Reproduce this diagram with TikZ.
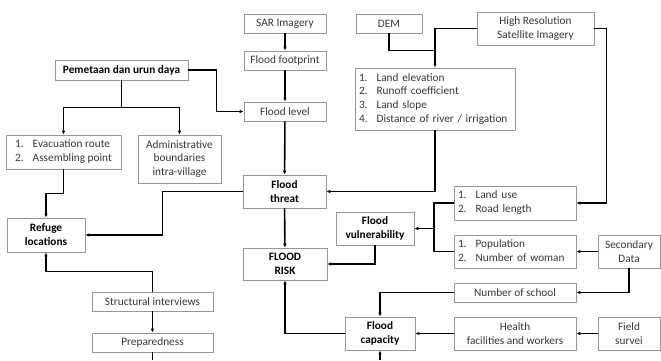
\documentclass[tikz,border=0pt]{standalone}
\usepackage{fontspec}
\setmainfont{Carlito}
\usetikzlibrary{arrows.meta,calc}
\definecolor{boxgray}{RGB}{150,150,150}
\definecolor{txt}{RGB}{55,55,55}
\tikzset{
  box/.style={draw=boxgray, line width=0.8bp, fill=white, inner sep=0pt, align=center, text=txt,
    font=\fontsize{11.3bp}{13.8bp}\selectfont},
  bbox/.style={box, text=black, font=\fontsize{11.3bp}{13.8bp}\selectfont\bfseries},
  conn/.style={line width=1.6bp, draw=black},
  arr/.style={conn, -{Latex[length=4bp,width=3.6bp]}},
}
\newcommand{\lst}[1]{\begin{tabular}{@{}l@{\hspace{9bp}}l@{}}#1\end{tabular}}
\begin{document}
\begin{tikzpicture}[x=1bp,y=-1bp]
\useasboundingbox (0,0) rectangle (661,360);
% nodes
\node[box, minimum width=82bp, minimum height=19bp] (sar) at (285,23.5) {SAR Imagery};
\node[box, minimum width=82bp, minimum height=19bp] (foot) at (285,60.5) {Flood footprint};
\node[box, minimum width=82bp, minimum height=19bp] (level) at (285,111.5) {Flood level};
\node[bbox, minimum width=133bp, minimum height=20bp] (pem) at (121.5,70) {Pemetaan dan urun daya};
\node[box, minimum width=115bp, minimum height=34bp] (evac) at (63.5,152) {\lst{1. & Evacuation route\\ 2. & Assembling point}};
\node[box, minimum width=83bp, minimum height=48bp] (admin) at (179.5,159) {Administrative\\boundaries\\intra-village};
\node[bbox, minimum width=83bp, minimum height=33bp] (threat) at (284.5,191.5) {Flood\\threat};
\node[bbox, minimum width=78bp, minimum height=34bp] (refuge) at (46,235) {Refuge\\locations};
\node[bbox, minimum width=84bp, minimum height=32bp] (risk) at (285,264) {FLOOD\\RISK};
\node[box, minimum width=121bp, minimum height=19bp] (struct) at (152.5,301.5) {Structural interviews};
\node[box, minimum width=121bp, minimum height=19bp] (prep) at (152.5,342.5) {Preparedness};
\node[box, minimum width=66bp, minimum height=19bp] (dem) at (389,23.5) {DEM};
\node[box, minimum width=117bp, minimum height=33bp] (hr) at (535.5,28.5) {High Resolution\\Satellite Imagery};
\node[box, minimum width=160bp, minimum height=62bp, align=left, text width=152bp] (list) at (435,99) {\lst{1. & Land elevation\\ 2. & Runoff coefficient\\ 3. & Land slope\\ 4. & Distance of river / irrigation}};
\node[box, minimum width=122bp, minimum height=34bp, align=left, text width=114bp] (landuse) at (515,203) {\lst{1. & Land use\\ 2. & Road length}};
\node[bbox, minimum width=78bp, minimum height=33bp] (vul) at (375,228.5) {Flood\\vulnerability};
\node[box, minimum width=122bp, minimum height=33bp, align=left, text width=114bp] (pop) at (515,251.5) {\lst{1. & Population\\ 2. & Number of woman}};
\node[box, minimum width=62bp, minimum height=33bp] (sec) at (629,251.5) {Secondary\\Data};
\node[box, minimum width=122bp, minimum height=19bp] (school) at (515,292.5) {Number of school};
\node[bbox, minimum width=70bp, minimum height=33bp] (cap) at (380,333.5) {Flood\\capacity};
\node[box, minimum width=122bp, minimum height=33bp] (health) at (515,333.5) {Health\\facilities and workers};
\node[box, minimum width=62bp, minimum height=33bp] (field) at (629,333.5) {Field\\survei};
\coordinate (br) at (434,228.5);
\coordinate (prepend) at (152.5,360);
\coordinate (capin) at (380,360);
% connectors
\draw[arr] (sar) -- (foot);
\draw[arr] (foot) -- (level);
\draw[arr] (level) -- (threat);
\draw[arr] (threat) -- (risk);
\draw[arr] (pem.east) -- ++(28,0) |- (level.west);
\draw[conn] (pem.south) -- ++(0,27) coordinate (pj);
\draw[arr] (pj) -| (evac.north);
\draw[arr] (pj) -| (admin.north);
\draw[arr] (evac.south) -- ++(0,24) -| (refuge.north);
\draw[arr] (threat.west) -- ++(-80,0) |- (refuge.east);
\draw[arr] (struct.north) -- ++(0,-20) -| (refuge.south);
\draw[arr] (struct) -- (prep);
\draw[conn] (prep.south) -- (prepend);
\draw[conn] (dem.south) |- ($(list.north)+(0,-17)$);
\draw[arr] (hr.west) -| (list.north);
\draw[arr] (hr.east) -- ++(12,0) |- (landuse.east);
\draw[arr] (list.south) |- (threat.east);
\draw[conn] (landuse.west) -| (br) |- (pop.west);
\draw[arr] (br) -- (vul.east);
\draw[arr] (vul.south) |- (risk.east);
\draw[arr] (sec) -- (pop);
\draw[arr] (sec.south) |- (school.east);
\draw[arr] (school.west) -| (cap.north);
\draw[arr] (health) -- (cap);
\draw[arr] (field) -- (health);
\draw[arr] (cap.west) -| (risk.south);
\draw[arr] (capin) -- (cap.south);
\end{tikzpicture}
\end{document}
